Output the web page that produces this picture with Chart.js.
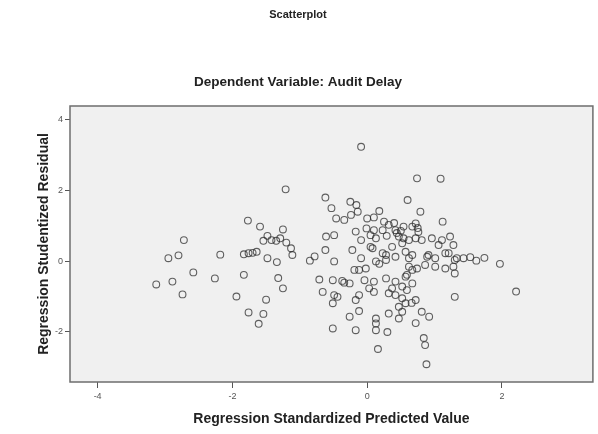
<!DOCTYPE html>
<html>
<head>
<meta charset="utf-8">
<script src="https://cdn.jsdelivr.net/npm/chart.js@4.4.1/dist/chart.umd.min.js"></script>
<style>
  html, body { margin: 0; padding: 0; background: #fff; }
  canvas { display: block; }
</style>
</head>
<body>
<canvas id="chart" width="598" height="434"></canvas>
<script>
// Regression Standardized Predicted Value (x) for each case
const predicted = [
  -3.13, -2.89, -2.74, -2.95, -2.80, -2.72, -2.58, -2.18, -2.26, -1.94, -1.77, -1.76,
  -1.83, -1.83, -1.76, -1.70, -1.64, -1.59, -1.54, -1.48, -1.42, -1.35, -1.29, -1.25,
  -1.20, -1.13, -1.11, -1.48, -1.34, -1.32, -1.25, -1.50, -1.54, -1.61, -1.21,
  -0.85, -0.78, -0.49, -0.09, -0.19, -0.12, -0.02, -0.71, -0.51, -0.34, -0.26, -0.04,
  0.03, -0.66, -0.49, -0.44, -0.51, -0.17, -0.12, -0.12, -0.26, -0.51, -0.17, -0.09,
  -0.62, -0.53, -0.25, -0.16, -0.46, -0.34, -0.24, -0.14, 0.00, -0.01, 0.05, -0.61,
  -0.49, -0.17, -0.09, -0.62, -0.22, 0.05, 0.16,
  0.74, 1.09, 0.60, 0.79, 1.12, 0.18, 0.10, 0.25, 0.32, 0.42, 0.54, 0.67, 0.72, 0.10,
  0.23, 0.13, 0.37, 0.52, 0.62, 0.72, 0.81, 0.96, 1.11, 1.23, 0.57, 0.67, 0.08, 0.28,
  0.42, 0.91, 1.01, 1.16, 1.06, 1.28, 0.47, 0.54, 0.23, 0.44, 0.29, 0.89, 1.21, 1.33,
  1.43, 1.53, 1.62, 1.74, 1.97, 2.21, 1.30,
  0.13, 0.28, 0.18, 0.62, 0.67, 0.62, 0.74, 0.86, 1.01, 1.16, 1.30, 1.28, 1.30, 0.59,
  0.10, 0.28, 0.42, 0.57, 0.67, 0.37, 0.52, 0.59, 0.10, 0.32, 0.42, 0.52, 0.72, 0.66,
  0.47, 0.57, 0.32, 0.52, 0.81, 0.92, 0.47, 0.13, 0.13, 0.13, 0.30, 0.72, 0.84, 0.86, 0.88,
  0.40, 0.50, 0.76, 0.75, -0.37
];

// Regression Studentized Residual (y) for each case
const residual = [
  -0.66, -0.58, -0.94, 0.08, 0.16, 0.59, -0.32, 0.18, -0.49, -1.00, 1.14, -1.45,
  -0.39, 0.19, 0.22, 0.23, 0.26, 0.97, 0.57, 0.71, 0.59, 0.57, 0.64, 0.89,
  0.52, 0.36, 0.17, 0.08, -0.03, -0.48, -0.77, -1.09, -1.49, -1.77, 2.02,
  0.01, 0.13, -0.01, 0.08, -0.25, -0.25, -0.21, -0.52, -0.54, -0.61, -0.63, -0.54,
  -0.77, -0.87, -0.96, -1.01, -1.19, -1.10, -0.96, -1.41, -1.57, -1.90, -1.95, 3.22,
  1.79, 1.49, 1.67, 1.58, 1.20, 1.16, 1.30, 1.39, 1.20, 0.92, 0.73, 0.69,
  0.73, 0.83, 0.59, 0.31, 0.31, 0.40, -2.48,
  2.33, 2.32, 1.72, 1.39, 1.11, 1.41, 1.23, 1.11, 1.02, 0.87, 0.97, 0.97, 1.06, 0.87,
  0.87, 0.64, 0.40, 0.50, 0.59, 0.64, 0.59, 0.64, 0.59, 0.69, 0.26, 0.17, 0.36, 0.17,
  0.12, 0.17, 0.08, 0.22, 0.45, 0.45, 0.69, 0.64, 0.22, 0.79, 0.71, 0.12, 0.22, 0.08,
  0.08, 0.11, 0.01, 0.09, -0.08, -0.86, -1.01,
  -0.01, 0.03, -0.08, 0.08, -0.25, -0.16, -0.21, -0.11, -0.16, -0.21, 0.03, -0.16, -0.35, -0.39,
  -0.58, -0.49, -0.58, -0.44, -0.63, -0.77, -0.72, -0.82, -0.87, -0.91, -0.96, -1.05, -1.10, -1.18,
  -1.29, -1.19, -1.48, -1.43, -1.43, -1.57, -1.62, -1.62, -1.76, -1.95, -2.00, -1.75, -2.17, -2.37, -2.91,
  1.07, 0.85, 0.82, 0.93, -0.56
];

const xTicks = [-4, -2, 0, 2];
const yTicks = [-2, 0, 2, 4];

const points = predicted.map((x, i) => ({ x: x, y: residual[i] }));

const FONT = "'Liberation Sans', Arial, sans-serif";

// grey plot background and frame, like the SPSS output
const plotFrame = {
  id: 'plotFrame',
  beforeDatasetsDraw(chart) {
    const {ctx, chartArea: a} = chart;
    ctx.save();
    ctx.fillStyle = '#f0f0f0';
    ctx.fillRect(a.left, a.top, a.right - a.left, a.bottom - a.top);
    ctx.restore();
  },
  afterDraw(chart) {
    const {ctx, chartArea: a} = chart;
    ctx.save();
    ctx.strokeStyle = '#6e6e6e';
    ctx.lineWidth = 1.5;
    ctx.strokeRect(a.left, a.top, a.right - a.left, a.bottom - a.top);
    ctx.restore();
  }
};

new Chart(document.getElementById('chart'), {
  type: 'scatter',
  data: {
    datasets: [{
      data: points,
      pointRadius: 3.4,
      pointBackgroundColor: 'rgba(0,0,0,0)',
      pointBorderColor: 'rgba(45,45,45,0.75)',
      pointBorderWidth: 1.1
    }]
  },
  options: {
    responsive: false,
    animation: false,
    layout: { padding: { left: 0, right: 2, top: 0, bottom: 0 } },
    plugins: {
      legend: { display: false },
      tooltip: { enabled: false },
      title: {
        display: true,
        text: 'Scatterplot',
        color: '#222',
        font: { family: FONT, size: 11, weight: 'bold' },
        padding: { top: 8.4, bottom: 0 }
      },
      subtitle: {
        display: true,
        text: 'Dependent Variable: Audit Delay',
        color: '#222',
        font: { family: FONT, size: 13.5, weight: 'bold' },
        padding: { top: 52.3, bottom: 15.9 }
      }
    },
    scales: {
      x: {
        type: 'linear',
        min: -4.41,
        max: 3.35,
        afterBuildTicks: s => { s.ticks = xTicks.map(v => ({ value: v })); },
        afterFit: s => { s.height = 52; },
        border: { display: false },
        grid: { drawOnChartArea: false, drawTicks: true, tickLength: 6, color: '#555' },
        ticks: { color: '#555', padding: 3, font: { family: FONT, size: 9 } },
        title: {
          display: true,
          text: 'Regression Standardized Predicted Value',
          color: '#222',
          font: { family: FONT, size: 14, weight: 'bold' },
          padding: { top: 4, bottom: 6 }
        }
      },
      y: {
        type: 'linear',
        min: -3.41,
        max: 4.37,
        afterBuildTicks: s => { s.ticks = yTicks.map(v => ({ value: v })); },
        afterFit: s => { s.width = 70; },
        border: { display: false },
        grid: { drawOnChartArea: false, drawTicks: true, tickLength: 5, color: '#555' },
        ticks: { color: '#555', padding: 2, font: { family: FONT, size: 9 } },
        title: {
          display: true,
          text: 'Regression Studentized Residual',
          color: '#222',
          font: { family: FONT, size: 14, weight: 'bold' },
          padding: { top: 35.6, bottom: 0 }
        }
      }
    }
  },
  plugins: [plotFrame]
});
</script>
</body>
</html>
